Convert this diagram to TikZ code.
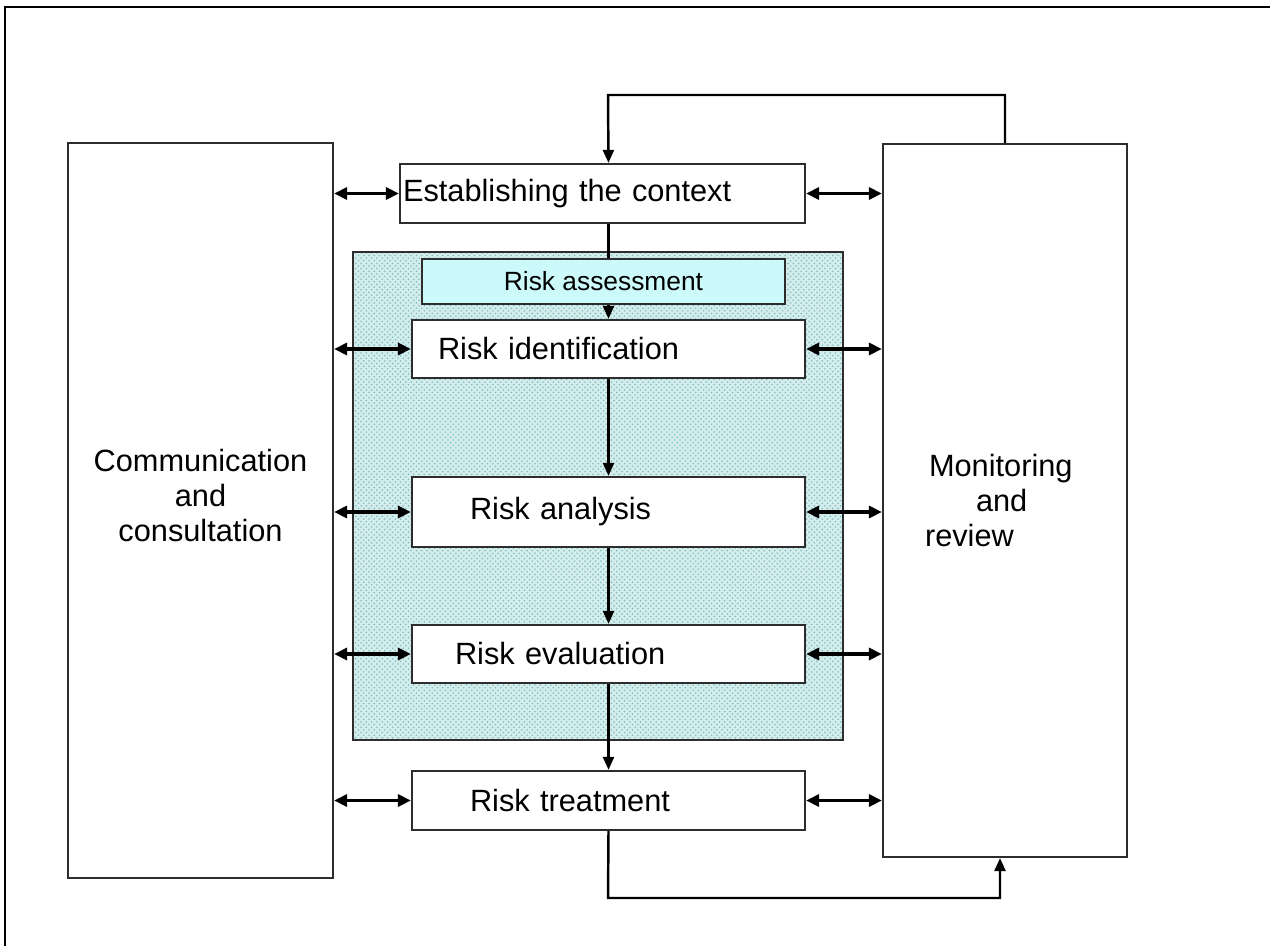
\documentclass[tikz,border=0pt]{standalone}
\usepackage[RGB]{xcolor}
\usepackage{fontspec}
\setmainfont{Liberation Sans}
\usetikzlibrary{arrows.meta,patterns}
\setlength{\parindent}{0pt}
\definecolor{edge}{RGB}{45,45,45}
\definecolor{assessfill}{RGB}{204,250,250}
\definecolor{shadefill}{RGB}{212,236,236}
\definecolor{shadedots}{RGB}{120,190,190}
\newcommand{\bigtext}{\fontsize{17.5}{20}\selectfont}
\newcommand{\stagetext}[2]{\hspace*{#1}#2}

\begin{document}
\begin{tikzpicture}[x=0.02cm,y=-0.02cm,
  box/.style={draw=edge,line width=1.3pt,fill=white,inner sep=0pt,font=\bigtext},
  stepbox/.style={box,minimum width=7.86cm,text width=7.86cm,align=left},
  flow/.style={draw=black,line width=1.4pt,-{Triangle[length=2.6mm,width=2.2mm]}},
  both/.style={draw=black,line width=1.8pt,{Triangle[length=2.6mm,width=2.4mm]}-{Triangle[length=2.6mm,width=2.4mm]}}]
\useasboundingbox (0,0) rectangle (1270,946);
\draw[line width=1.6pt] (5,946) -- (5,7) -- (1270,7);
\node[draw=edge,line width=1.3pt,minimum width=9.8cm,minimum height=9.76cm,inner sep=0pt,
  preaction={fill=shadefill},pattern=crosshatch dots,pattern color=shadedots] (zone) at (598,496) {};
\node[box,minimum width=5.3cm,minimum height=14.7cm,
  label={[name=commtext,font=\bigtext,align=center,yshift=0.3cm]center:Communication\\and\\consultation}] (comm) at (200.5,510.5) {};
\node[box,minimum width=4.88cm,minimum height=14.26cm,text width=4.88cm,align=left] (mon) at (1005,500.5)
  {\stagetext{0.92cm}{Monitoring}\\\stagetext{1.86cm}{and}\\\stagetext{0.84cm}{review}};
\node[box,minimum width=8.1cm,minimum height=1.18cm,text width=8.1cm,align=left] (ctx) at (602.5,193.5) {\stagetext{0.06cm}{Establishing the context}};
\node[box,fill=assessfill,minimum width=7.26cm,minimum height=0.9cm,font=\fontsize{15}{18}\selectfont] (assess) at (603.5,281.5) {Risk assessment};
\node[stepbox,minimum height=1.16cm] (ident) at (608.5,349) {\stagetext{0.52cm}{Risk identification}};
\node[stepbox,minimum height=1.4cm] (anal) at (608.5,512) {\stagetext{1.16cm}{Risk analysis}};
\node[stepbox,minimum height=1.16cm] (eval) at (608.5,654) {\stagetext{0.86cm}{Risk evaluation}};
\node[stepbox,minimum height=1.18cm] (treat) at (608.5,800.5) {\stagetext{1.16cm}{Risk treatment}};
\coordinate (topbend) at (608,95);
\coordinate (botbend) at (608,898);
\draw[line width=1.4pt] (ident.north |- ctx.south) -- (ident.north |- assess.north);
\draw[flow] (ident.north |- assess.south) -- (ident.north);
\draw[flow] (ident.south) -- (anal.north);
\draw[flow] (anal.south) -- (eval.north);
\draw[flow] (eval.south) -- (treat.north);
\draw[flow] (mon.north) |- (topbend) -- (ident.north |- ctx.north);
\draw[flow] (treat.south) -- (botbend) -| ([xshift=-0.1cm]mon.south);
\foreach \stage in {ctx,ident,anal,eval,treat}{
  \draw[both] (comm.east |- \stage.west) -- (\stage.west);
  \draw[both] (\stage.east) -- (mon.west |- \stage.east);
}
\end{tikzpicture}
\end{document}
